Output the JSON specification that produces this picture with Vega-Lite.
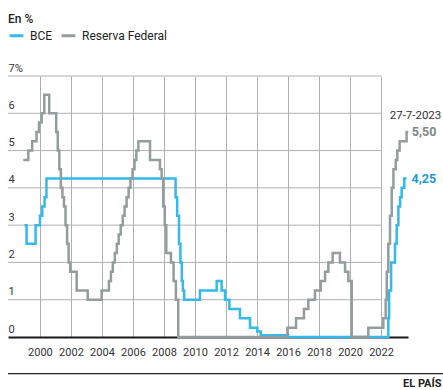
{
  "$schema": "https://vega.github.io/schema/vega-lite/v6.json",
  "width": 400,
  "height": 261,
  "autosize": {"type": "none"},
  "padding": {"left": 8, "top": 76, "right": 35, "bottom": 53},
  "background": "white",
  "config": {"view": {"stroke": null}, "font": "Roboto"},
  "title": {"text": "En %", "anchor": "start", "frame": "group", "offset": 1, "fontSize": 12, "fontWeight": 500, "color": "#222", "font": "Roboto"},
  "encoding": {
    "x": {
      "type": "quantitative",
      "scale": {"domain": [1997.94, 2023.74], "nice": false, "zero": false},
      "axis": {
        "values": [2000, 2002, 2004, 2006, 2008, 2010, 2012, 2014, 2016, 2018, 2020, 2022],
        "format": "d", "grid": true, "gridColor": "#b0b0b0", "gridWidth": 1, "gridOpacity": 1,
        "domain": true, "domainColor": "#1a1a1a", "domainWidth": 2,
        "ticks": false, "tickSize": 0, "labelPadding": 9, "labelOverlap": false,
        "labelFontSize": 11, "labelColor": "#333", "labelFont": "Roboto",
        "title": "EL PAÍS", "titleAnchor": "end", "titleAlign": "right",
        "titleX": 433, "titleY": 49, "titleBaseline": "alphabetic",
        "titleFontSize": 11, "titleFontWeight": "bold", "titleColor": "#222", "titleFont": "Roboto"
      }
    },
    "y": {
      "type": "quantitative",
      "scale": {"domain": [0, 7], "nice": false},
      "axis": {
        "values": [0, 1, 2, 3, 4, 5, 6, 7],
        "labelExpr": "datum.value == 7 ? '7%' : datum.label",
        "grid": false, "domain": false, "ticks": false, "tickSize": 0, "labelOverlap": false,
        "labelAlign": "left", "labelBaseline": "bottom", "labelPadding": 0, "labelOffset": -3,
        "labelFontSize": 11, "labelColor": "#333", "labelFont": "Roboto", "title": null
      }
    }
  },
  "layer": [
    {
      "data": {"values": [{"nivel": 1}, {"nivel": 2}, {"nivel": 3}, {"nivel": 4}, {"nivel": 5}, {"nivel": 6}, {"nivel": 7}]},
      "mark": {"type": "rule", "color": "#b0b0b0", "strokeWidth": 1, "opacity": 1},
      "encoding": {
        "y": {"field": "nivel"},
        "x": {"datum": 1997.94},
        "x2": {"datum": 2022}
      }
    },
    {
      "data": {"values": [{"nivel": -0.98}]},
      "mark": {"type": "rule", "color": "#222", "strokeWidth": 1.3},
      "encoding": {
        "y": {"field": "nivel"},
        "x": {"datum": 1997.94},
        "x2": {"datum": 2026.1}
      }
    },
    {
      "data": {"values": [
        {"serie": "BCE", "fecha": 1999.0, "tipo": 3.0},
        {"serie": "BCE", "fecha": 1999.14, "tipo": 2.5},
        {"serie": "BCE", "fecha": 1999.72, "tipo": 3.0},
        {"serie": "BCE", "fecha": 2000.0, "tipo": 3.25},
        {"serie": "BCE", "fecha": 2000.15, "tipo": 3.5},
        {"serie": "BCE", "fecha": 2000.3, "tipo": 3.75},
        {"serie": "BCE", "fecha": 2000.42, "tipo": 4.25},
        {"serie": "BCE", "fecha": 2008.75, "tipo": 3.75},
        {"serie": "BCE", "fecha": 2008.85, "tipo": 3.25},
        {"serie": "BCE", "fecha": 2008.97, "tipo": 2.5},
        {"serie": "BCE", "fecha": 2009.06, "tipo": 2.0},
        {"serie": "BCE", "fecha": 2009.15, "tipo": 1.5},
        {"serie": "BCE", "fecha": 2009.22, "tipo": 1.25},
        {"serie": "BCE", "fecha": 2009.3, "tipo": 1.0},
        {"serie": "BCE", "fecha": 2010.32, "tipo": 1.25},
        {"serie": "BCE", "fecha": 2011.4, "tipo": 1.5},
        {"serie": "BCE", "fecha": 2011.72, "tipo": 1.25},
        {"serie": "BCE", "fecha": 2011.94, "tipo": 1.0},
        {"serie": "BCE", "fecha": 2012.22, "tipo": 0.75},
        {"serie": "BCE", "fecha": 2012.9, "tipo": 0.5},
        {"serie": "BCE", "fecha": 2013.55, "tipo": 0.25},
        {"serie": "BCE", "fecha": 2014.02, "tipo": 0.15},
        {"serie": "BCE", "fecha": 2014.24, "tipo": 0.05},
        {"serie": "BCE", "fecha": 2016.0, "tipo": 0},
        {"serie": "BCE", "fecha": 2022.47, "tipo": 0.5},
        {"serie": "BCE", "fecha": 2022.52, "tipo": 1.25},
        {"serie": "BCE", "fecha": 2022.65, "tipo": 2.0},
        {"serie": "BCE", "fecha": 2022.9, "tipo": 2.5},
        {"serie": "BCE", "fecha": 2023.01, "tipo": 3.0},
        {"serie": "BCE", "fecha": 2023.12, "tipo": 3.5},
        {"serie": "BCE", "fecha": 2023.23, "tipo": 3.75},
        {"serie": "BCE", "fecha": 2023.33, "tipo": 4.0},
        {"serie": "BCE", "fecha": 2023.5, "tipo": 4.25},
        {"serie": "BCE", "fecha": 2023.65, "tipo": 4.25},
        {"serie": "Reserva Federal", "fecha": 1998.92, "tipo": 4.75},
        {"serie": "Reserva Federal", "fecha": 1999.25, "tipo": 5.0},
        {"serie": "Reserva Federal", "fecha": 1999.5, "tipo": 5.25},
        {"serie": "Reserva Federal", "fecha": 1999.78, "tipo": 5.5},
        {"serie": "Reserva Federal", "fecha": 1999.94, "tipo": 5.75},
        {"serie": "Reserva Federal", "fecha": 2000.11, "tipo": 6.0},
        {"serie": "Reserva Federal", "fecha": 2000.28, "tipo": 6.5},
        {"serie": "Reserva Federal", "fecha": 2000.6, "tipo": 6.0},
        {"serie": "Reserva Federal", "fecha": 2001.05, "tipo": 5.5},
        {"serie": "Reserva Federal", "fecha": 2001.15, "tipo": 5.0},
        {"serie": "Reserva Federal", "fecha": 2001.25, "tipo": 4.5},
        {"serie": "Reserva Federal", "fecha": 2001.35, "tipo": 4.0},
        {"serie": "Reserva Federal", "fecha": 2001.45, "tipo": 3.75},
        {"serie": "Reserva Federal", "fecha": 2001.55, "tipo": 3.5},
        {"serie": "Reserva Federal", "fecha": 2001.65, "tipo": 3.0},
        {"serie": "Reserva Federal", "fecha": 2001.75, "tipo": 2.5},
        {"serie": "Reserva Federal", "fecha": 2001.85, "tipo": 2.0},
        {"serie": "Reserva Federal", "fecha": 2001.95, "tipo": 1.75},
        {"serie": "Reserva Federal", "fecha": 2002.37, "tipo": 1.25},
        {"serie": "Reserva Federal", "fecha": 2003.08, "tipo": 1.0},
        {"serie": "Reserva Federal", "fecha": 2003.98, "tipo": 1.25},
        {"serie": "Reserva Federal", "fecha": 2004.45, "tipo": 1.5},
        {"serie": "Reserva Federal", "fecha": 2004.58, "tipo": 1.75},
        {"serie": "Reserva Federal", "fecha": 2004.7, "tipo": 2.0},
        {"serie": "Reserva Federal", "fecha": 2004.83, "tipo": 2.25},
        {"serie": "Reserva Federal", "fecha": 2004.96, "tipo": 2.5},
        {"serie": "Reserva Federal", "fecha": 2005.08, "tipo": 2.75},
        {"serie": "Reserva Federal", "fecha": 2005.21, "tipo": 3.0},
        {"serie": "Reserva Federal", "fecha": 2005.34, "tipo": 3.25},
        {"serie": "Reserva Federal", "fecha": 2005.46, "tipo": 3.5},
        {"serie": "Reserva Federal", "fecha": 2005.59, "tipo": 3.75},
        {"serie": "Reserva Federal", "fecha": 2005.72, "tipo": 4.0},
        {"serie": "Reserva Federal", "fecha": 2005.84, "tipo": 4.25},
        {"serie": "Reserva Federal", "fecha": 2005.97, "tipo": 4.5},
        {"serie": "Reserva Federal", "fecha": 2006.1, "tipo": 4.75},
        {"serie": "Reserva Federal", "fecha": 2006.22, "tipo": 5.0},
        {"serie": "Reserva Federal", "fecha": 2006.35, "tipo": 5.25},
        {"serie": "Reserva Federal", "fecha": 2007.1, "tipo": 4.75},
        {"serie": "Reserva Federal", "fecha": 2007.74, "tipo": 4.5},
        {"serie": "Reserva Federal", "fecha": 2007.85, "tipo": 4.25},
        {"serie": "Reserva Federal", "fecha": 2007.95, "tipo": 3.5},
        {"serie": "Reserva Federal", "fecha": 2008.05, "tipo": 3.0},
        {"serie": "Reserva Federal", "fecha": 2008.15, "tipo": 2.25},
        {"serie": "Reserva Federal", "fecha": 2008.45, "tipo": 2.0},
        {"serie": "Reserva Federal", "fecha": 2008.62, "tipo": 1.5},
        {"serie": "Reserva Federal", "fecha": 2008.77, "tipo": 1.0},
        {"serie": "Reserva Federal", "fecha": 2008.92, "tipo": 0},
        {"serie": "Reserva Federal", "fecha": 2015.96, "tipo": 0.25},
        {"serie": "Reserva Federal", "fecha": 2016.52, "tipo": 0.5},
        {"serie": "Reserva Federal", "fecha": 2017.03, "tipo": 0.75},
        {"serie": "Reserva Federal", "fecha": 2017.31, "tipo": 1.0},
        {"serie": "Reserva Federal", "fecha": 2017.74, "tipo": 1.25},
        {"serie": "Reserva Federal", "fecha": 2018.11, "tipo": 1.5},
        {"serie": "Reserva Federal", "fecha": 2018.39, "tipo": 1.75},
        {"serie": "Reserva Federal", "fecha": 2018.6, "tipo": 2.0},
        {"serie": "Reserva Federal", "fecha": 2018.88, "tipo": 2.25},
        {"serie": "Reserva Federal", "fecha": 2019.35, "tipo": 2.0},
        {"serie": "Reserva Federal", "fecha": 2019.68, "tipo": 1.75},
        {"serie": "Reserva Federal", "fecha": 2019.89, "tipo": 1.5},
        {"serie": "Reserva Federal", "fecha": 2020.11, "tipo": 0},
        {"serie": "Reserva Federal", "fecha": 2021.18, "tipo": 0.25},
        {"serie": "Reserva Federal", "fecha": 2022.15, "tipo": 0.5},
        {"serie": "Reserva Federal", "fecha": 2022.3, "tipo": 1.0},
        {"serie": "Reserva Federal", "fecha": 2022.37, "tipo": 1.75},
        {"serie": "Reserva Federal", "fecha": 2022.47, "tipo": 2.5},
        {"serie": "Reserva Federal", "fecha": 2022.58, "tipo": 3.25},
        {"serie": "Reserva Federal", "fecha": 2022.69, "tipo": 4.0},
        {"serie": "Reserva Federal", "fecha": 2022.8, "tipo": 4.5},
        {"serie": "Reserva Federal", "fecha": 2022.95, "tipo": 4.75},
        {"serie": "Reserva Federal", "fecha": 2023.05, "tipo": 5.0},
        {"serie": "Reserva Federal", "fecha": 2023.2, "tipo": 5.25},
        {"serie": "Reserva Federal", "fecha": 2023.65, "tipo": 5.5},
        {"serie": "Reserva Federal", "fecha": 2023.76, "tipo": 5.5}
      ]},
      "mark": {"type": "line", "interpolate": "step-after", "strokeWidth": 2.5},
      "encoding": {
        "x": {"field": "fecha"},
        "y": {"field": "tipo"},
        "color": {
          "field": "serie", "type": "nominal",
          "scale": {"domain": ["BCE", "Reserva Federal"], "range": ["#33b9ec", "#939d9d"]},
          "legend": {
            "orient": "none", "legendX": 0, "legendY": -49, "direction": "horizontal", "title": null,
            "symbolType": "stroke", "symbolStrokeWidth": 3, "symbolSize": 190,
            "labelFontSize": 12, "labelFont": "Roboto", "labelColor": "#222", "labelOffset": 5,
            "columnPadding": 2, "padding": 0
          }
        }
      }
    },
    {
      "data": {"values": [{"fecha": 2023.76, "tipo": 5.5, "etiqueta": "5,50"}]},
      "mark": {"type": "text", "align": "left", "baseline": "middle", "dx": 3.5, "fontSize": 12.5, "fontWeight": "bold", "color": "#7d8888", "font": "Roboto"},
      "encoding": {"x": {"field": "fecha"}, "y": {"field": "tipo"}, "text": {"field": "etiqueta"}}
    },
    {
      "data": {"values": [{"fecha": 2023.65, "tipo": 4.25, "etiqueta": "4,25"}]},
      "mark": {"type": "text", "align": "left", "baseline": "middle", "dx": 5, "fontSize": 12.5, "fontWeight": "bold", "color": "#1d98d4", "font": "Roboto"},
      "encoding": {"x": {"field": "fecha"}, "y": {"field": "tipo"}, "text": {"field": "etiqueta"}}
    },
    {
      "data": {"values": [{"fecha": 2023.76, "tipo": 5.5, "etiqueta": "27-7-2023"}]},
      "mark": {"type": "text", "align": "right", "baseline": "middle", "dx": 33, "dy": -16, "fontSize": 11.5, "color": "#333", "font": "Roboto"},
      "encoding": {"x": {"field": "fecha"}, "y": {"field": "tipo"}, "text": {"field": "etiqueta"}}
    }
  ]
}
